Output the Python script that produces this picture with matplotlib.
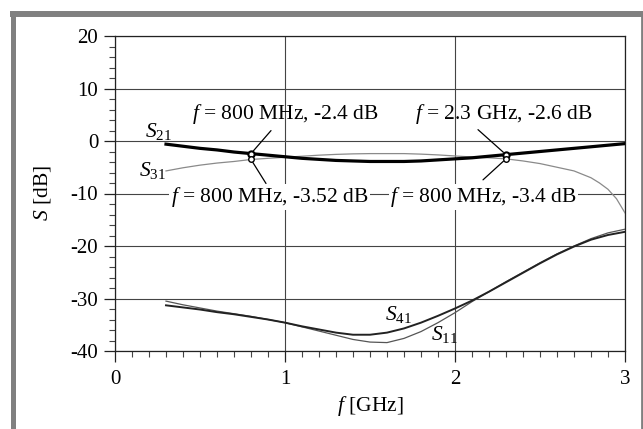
import matplotlib
matplotlib.use("Agg")
import matplotlib.pyplot as plt
from matplotlib.lines import Line2D
from matplotlib.ticker import MultipleLocator

plt.rcParams['font.family'] = ['Liberation Serif', 'DejaVu Serif']
plt.rcParams['mathtext.fontset'] = 'custom'
plt.rcParams['mathtext.rm'] = 'Liberation Serif'
plt.rcParams['mathtext.it'] = 'Liberation Serif:italic'
plt.rcParams['axes.unicode_minus'] = False

# ---- data ----
freq = [0.3, 0.4, 0.5, 0.6, 0.7, 0.8, 0.9, 1.0, 1.1, 1.2, 1.3, 1.4, 1.5, 1.6,
        1.7, 1.8, 1.9, 2.0, 2.1, 2.2, 2.3, 2.4, 2.5, 2.6, 2.7, 2.8, 2.9, 3.0]
s21 = [-0.6, -1.0, -1.4, -1.7, -2.1, -2.4, -2.7, -3.0, -3.3, -3.5, -3.7, -3.8, -3.9, -3.9,
       -3.9, -3.8, -3.6, -3.4, -3.2, -2.9, -2.6, -2.3, -2.0, -1.7, -1.4, -1.1, -0.8, -0.5]
freq31 = [0.3, 0.4, 0.5, 0.6, 0.7, 0.8, 0.9, 1.0, 1.1, 1.2, 1.3, 1.4, 1.5, 1.6, 1.7,
          1.8, 1.9, 2.0, 2.1, 2.2, 2.3, 2.4, 2.5, 2.6, 2.7, 2.8, 2.85, 2.9, 2.95, 3.0]
s31 = [-5.7, -5.1, -4.6, -4.2, -3.9, -3.52, -3.3, -3.1, -2.9, -2.7, -2.55, -2.45, -2.4, -2.4, -2.4,
       -2.5, -2.65, -2.85, -3.05, -3.2, -3.4, -3.8, -4.3, -5.0, -5.7, -7.0, -8.0, -9.2, -11.0, -13.7]
s41 = [-31.3, -31.7, -32.1, -32.6, -33.0, -33.5, -34.0, -34.6, -35.3, -35.9, -36.5, -36.9, -36.9, -36.5,
       -35.7, -34.6, -33.3, -31.9, -30.4, -28.7, -26.9, -25.1, -23.3, -21.6, -20.1, -18.8, -17.9, -17.3]
s11 = [-30.5, -31.2, -31.8, -32.4, -32.9, -33.4, -34.0, -34.6, -35.4, -36.2, -37.0, -37.8, -38.3, -38.4,
       -37.6, -36.3, -34.6, -32.7, -30.6, -28.7, -26.8, -25.0, -23.2, -21.5, -20.0, -18.6, -17.5, -16.8]

mark_f = [0.8, 2.3]
mark_s21 = [-2.4, -2.6]
mark_s31 = [-3.52, -3.4]

x_ticks = [0, 1, 2, 3]
y_ticks = [-40, -30, -20, -10, 0, 10, 20]

# ---- figure ----
W, H = 643, 429
fig = plt.figure(figsize=(W / 100, H / 100), dpi=100)
ax = fig.add_axes([115 / W, 1 - 351 / H, 510 / W, 315 / H])

ax.set_xlim(0, 3)
ax.set_ylim(-40, 20)
ax.set_xticks(x_ticks)
ax.set_yticks(y_ticks)
ax.xaxis.set_minor_locator(MultipleLocator(0.1))
ax.yaxis.set_minor_locator(MultipleLocator(2))
ax.tick_params(axis='both', which='major', direction='out', length=8, width=0.9,
               labelsize=15, color='#222222')
ax.tick_params(axis='both', which='minor', direction='out', length=4.3, width=0.8,
               color='#444444')
ax.tick_params(axis='x', which='major', pad=6)
ax.tick_params(axis='y', which='major', pad=4)
ax.grid(True, which='major', color='#444444', linewidth=0.8)
for sp in ax.spines.values():
    sp.set_linewidth(0.9)
    sp.set_color('#222222')

ax.plot(freq31, s31, color='#8a8a8a', lw=0.9, zorder=3)
ax.plot(freq, s11, color='#555555', lw=0.9, zorder=3)
ax.plot(freq, s41, color='#222222', lw=1.4, zorder=3)
ax.plot(freq, s21, color='black', lw=2.3, zorder=4)

ax.plot(mark_f, mark_s21, 'o', ms=4.5, mfc='white', mec='black', mew=1.5, zorder=6)
ax.plot(mark_f, mark_s31, 'o', ms=4.0, mfc='white', mec='black', mew=1.0, zorder=6)

# leader lines (offsets in pixels from marker)
leaders = [
    (mark_f[0], mark_s21[0], 20, 23),
    (mark_f[0], mark_s31[0], 15, -24),
    (mark_f[1], mark_s21[1], -28, 25),
    (mark_f[1], mark_s31[1], -23, -21),
]
for xf, yv, dx, dy in leaders:
    ax.annotate('', xy=(xf, yv), xytext=(dx, dy), textcoords='offset pixels',
                arrowprops=dict(arrowstyle='-', lw=0.9, color='black',
                                shrinkA=0, shrinkB=2.5), zorder=5)

tfs = 15.5
ax.text(1.003, 5.1, r'$f$ = 800 MHz, -2.4 dB', ha='center', va='center', fontsize=tfs, zorder=7)
ax.text(0.909, -10.67, r'$f$ = 800 MHz, -3.52 dB', ha='center', va='center', fontsize=tfs,
        zorder=7, bbox=dict(fc='white', ec='none', pad=1.0))
ax.text(2.285, 5.1, r'$f$ = 2.3 GHz, -2.6 dB', ha='center', va='center', fontsize=tfs, zorder=7)
ax.text(2.168, -10.67, r'$f$ = 800 MHz, -3.4 dB', ha='center', va='center', fontsize=tfs,
        zorder=7, bbox=dict(fc='white', ec='none', pad=1.0))

ax.text(0.176, 1.9, r'$S_{21}$', ha='left', va='center', fontsize=tfs, zorder=7)
ax.text(0.141, -5.7, r'$S_{31}$', ha='left', va='center', fontsize=tfs, zorder=7)
ax.text(1.588, -33.0, r'$S_{41}$', ha='left', va='center', fontsize=tfs, zorder=7)
ax.text(1.859, -36.8, r'$S_{11}$', ha='left', va='center', fontsize=tfs, zorder=7)

ax.set_xlabel(r'$f$ [GHz]', fontsize=15.5)
ax.set_ylabel(r'$S$ [dB]', fontsize=15.5)
ax.xaxis.set_label_coords(0.5, -0.135)
ax.yaxis.set_label_coords(-0.122, 0.5)

# gray frame around the picture
gray = '#808080'
fig.add_artist(Line2D([10 / W, 1.0], [1 - 14 / H] * 2, transform=fig.transFigure,
                      color=gray, lw=4.3, solid_capstyle='butt'))
fig.add_artist(Line2D([13 / W] * 2, [0, 1 - 11 / H], transform=fig.transFigure,
                      color=gray, lw=3.6, solid_capstyle='butt'))
fig.add_artist(Line2D([641.5 / W] * 2, [0, 1 - 12 / H], transform=fig.transFigure,
                      color=gray, lw=2.0, solid_capstyle='butt'))

fig.savefig('out.png', dpi=100)
